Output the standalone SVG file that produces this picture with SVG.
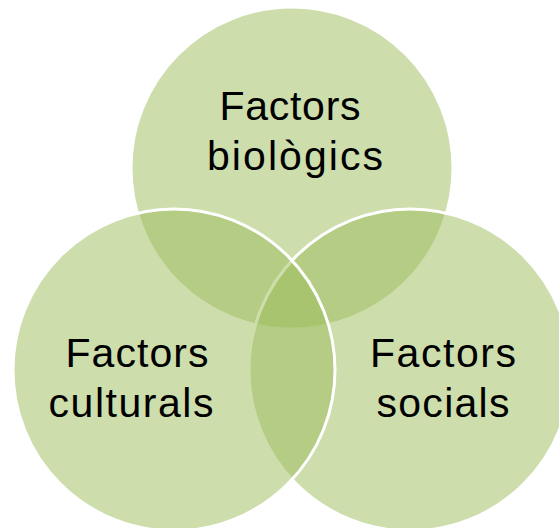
<svg xmlns="http://www.w3.org/2000/svg" width="559" height="528" viewBox="0 0 559 528">
<style>
.c{fill:#9BBB59;fill-opacity:0.5;stroke:#FFFFFF;stroke-width:3}
.t{font-family:"Liberation Sans",Arial,sans-serif;font-size:41px;fill:#000000;text-anchor:middle}
</style>
<rect width="559" height="528" fill="#FFFFFF"/>
<g id="biologics">
<circle class="c" cx="292" cy="168" r="161"/>
<text class="t" x="290" y="120" textLength="141" lengthAdjust="spacing">Factors</text>
<text class="t" x="295" y="170" textLength="176" lengthAdjust="spacing">biològics</text>
</g>
<g id="socials">
<circle class="c" cx="410" cy="370" r="161"/>
<text class="t" x="443" y="367" textLength="146" lengthAdjust="spacing">Factors</text>
<text class="t" x="443" y="417" textLength="133" lengthAdjust="spacing">socials</text>
</g>
<g id="culturals">
<circle class="c" cx="174" cy="370" r="161"/>
<text class="t" x="137" y="367" textLength="143" lengthAdjust="spacing">Factors</text>
<text class="t" x="131" y="417" textLength="165" lengthAdjust="spacing">culturals</text>
</g>
<g id="connectors"/>
</svg>
